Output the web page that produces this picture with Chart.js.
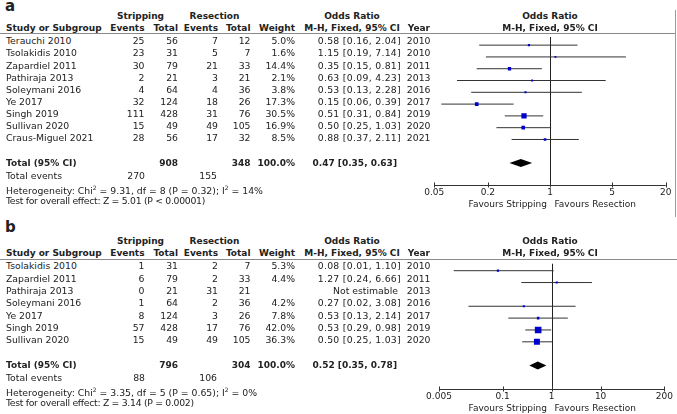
<!DOCTYPE html>
<html>
<head>
<meta charset="utf-8">
<script src="https://cdn.jsdelivr.net/npm/chart.js@4.4.1/dist/chart.umd.min.js"></script>
<style>
  html, body { margin: 0; padding: 0; background: #fff; }
  #page { position: relative; width: 677px; height: 414px; overflow: hidden;
    font-family: "DejaVu Sans", sans-serif; font-size: 9.3px; color: #222; }
  .t { position: absolute; white-space: nowrap; line-height: 12px; }
  .b { font-weight: bold; font-size: 9px; }
  .ci { letter-spacing: 0.3px; }
  .tight { letter-spacing: -0.3px; }
  .sm { font-size: 9px; }
  .letter { position: absolute; font-weight: bold; font-size: 15px; line-height: 15px; }
  .hr { position: absolute; height: 0; border-top: 1px solid #8a8a8a; }
  .vr { position: absolute; width: 0; border-left: 1px solid #9a9a9a; }
  .plot { position: absolute; }
</style>
</head>
<body>
<div id="page">
  <div class="letter" style="left:5px;top:-1px">a</div>
  <div class="letter" style="left:5px;top:220px">b</div>
  <div class="hr" style="left:0;top:33px;width:675px"></div>
  <div class="vr" style="left:675px;top:10px;height:207px"></div>
  <div class="hr" style="left:0;top:259px;width:677px"></div>
  <div class="plot" style="left:420px;top:33px;width:257px;height:174px"><canvas id="c-a"></canvas></div>
  <div class="plot" style="left:420px;top:259px;width:257px;height:152px"><canvas id="c-b"></canvas></div>
</div>
<script>
// Panel a — wszystkie badania
const studiesA = ["Terauchi 2010", "Tsolakidis 2010", "Zapardiel 2011", "Pathiraja 2013",
  "Soleymani 2016", "Ye 2017", "Singh 2019", "Sullivan 2020", "Craus-Miguel 2021"];
const stripEventsA = [25, 23, 30, 2, 4, 32, 111, 15, 28];
const stripTotalA = [56, 31, 79, 21, 64, 124, 428, 49, 56];
const resEventsA = [7, 5, 21, 3, 4, 18, 31, 49, 17];
const resTotalA = [12, 7, 33, 21, 36, 26, 76, 105, 32];
const weightA = [5.0, 1.6, 14.4, 2.1, 3.8, 17.3, 30.5, 16.9, 8.5];
const orA = [0.58, 1.15, 0.35, 0.63, 0.53, 0.15, 0.51, 0.50, 0.88];
const loA = [0.16, 0.19, 0.15, 0.09, 0.13, 0.06, 0.31, 0.25, 0.37];
const hiA = [2.04, 7.14, 0.81, 4.23, 2.28, 0.39, 0.84, 1.03, 2.11];
const yearA = [2010, 2010, 2011, 2013, 2016, 2017, 2019, 2020, 2021];
const totalA = [0.47, 0.35, 0.63];
const hetA = ["9.31", "8", "0.32", "14%"];
const testA = ["5.01", "P < 0.00001"];
const ticksA = [0.05, 0.2, 1, 5, 20];

// Panel b
const studiesB = ["Tsolakidis 2010", "Zapardiel 2011", "Pathiraja 2013", "Soleymani 2016",
  "Ye 2017", "Singh 2019", "Sullivan 2020"];
const stripEventsB = [1, 6, 0, 1, 8, 57, 15];
const stripTotalB = [31, 79, 21, 64, 124, 428, 49];
const resEventsB = [2, 2, 31, 2, 3, 17, 49];
const resTotalB = [7, 33, 21, 36, 26, 76, 105];
const weightB = [5.3, 4.4, null, 4.2, 7.8, 42.0, 36.3];
const orB = [0.08, 1.27, null, 0.27, 0.53, 0.53, 0.50];
const loB = [0.01, 0.24, null, 0.02, 0.13, 0.29, 0.25];
const hiB = [1.10, 6.66, null, 3.08, 2.14, 0.98, 1.03];
const yearB = [2010, 2011, 2013, 2016, 2017, 2019, 2020];
const totalB = [0.52, 0.35, 0.78];
const hetB = ["3.35", "5", "0.65", "0%"];
const testB = ["3.14", "P = 0.002"];
const ticksB = [0.005, 0.1, 1, 10, 200];

const page = document.getElementById("page");
const sum = (a) => a.reduce((s, v) => s + v, 0);
const f2 = (v) => v.toFixed(2);

function put(s, x, y, o = {}) {
  const d = document.createElement("div");
  d.className = "t" + (o.b ? " b" : "") + (o.cls ? " " + o.cls : "");
  if (o.html) d.innerHTML = s; else d.textContent = s;
  d.style.top = (y - 6) + "px";
  if (o.a === "r") d.style.right = (677 - x) + "px";
  else if (o.a === "c") { d.style.left = x + "px"; d.style.transform = "translateX(-50%)"; }
  else d.style.left = x + "px";
  page.appendChild(d);
}

// Tabela po lewej stronie panelu
function table(p) {
  const h1 = p.top + 16, h2 = p.top + 28;
  put("Stripping", 140.5, h1, { b: 1, a: "c" });
  put("Resection", 214.5, h1, { b: 1, a: "c" });
  put("Odds Ratio", 352, h1, { b: 1, a: "c" });
  put("Odds Ratio", 550, h1, { b: 1, a: "c" });
  put("Study or Subgroup", 6, h2, { b: 1 });
  put("Events", 144.5, h2, { b: 1, a: "r" });
  put("Total", 178, h2, { b: 1, a: "r" });
  put("Events", 218, h2, { b: 1, a: "r" });
  put("Total", 250.5, h2, { b: 1, a: "r" });
  put("Weight", 295, h2, { b: 1, a: "r" });
  put("M-H, Fixed, 95% CI", 352, h2, { b: 1, a: "c" });
  put("Year", 430, h2, { b: 1, a: "r" });
  put("M-H, Fixed, 95% CI", 550, h2, { b: 1, a: "c" });

  p.studies.forEach((s, i) => {
    const y = p.row0 + i * p.step;
    put(s, 6, y);
    put(String(p.se[i]), 144.5, y, { a: "r" });
    put(String(p.st[i]), 178, y, { a: "r" });
    put(String(p.re[i]), 218, y, { a: "r" });
    put(String(p.rt[i]), 250.5, y, { a: "r" });
    if (p.w[i] != null) put(p.w[i].toFixed(1) + "%", 295, y, { a: "r" });
    if (p.or[i] != null)
      put(`${f2(p.or[i])} [${f2(p.lo[i])}, ${f2(p.hi[i])}]`, 401, y, { a: "r", cls: "ci" });
    else put("Not estimable", 398, y, { a: "r" });
    put(String(p.year[i]), 430.5, y, { a: "r" });
  });

  const yt = p.row0 + p.totalRow * p.step;
  put("Total (95% CI)", 6, yt, { b: 1 });
  put(String(sum(p.st)), 178, yt, { b: 1, a: "r" });
  put(String(sum(p.rt)), 250.5, yt, { b: 1, a: "r" });
  put("100.0%", 295, yt, { b: 1, a: "r" });
  put(`${f2(p.total[0])} [${f2(p.total[1])}, ${f2(p.total[2])}]`, 397, yt, { b: 1, a: "r" });
  put("Total events", 6, yt + 13);
  put(String(sum(p.se)), 145, yt + 13, { a: "r" });
  put(String(sum(p.re)), 217, yt + 13, { a: "r" });
  put(`Heterogeneity: Chi<sup style="font-size:6px">2</sup> = ${p.het[0]}, df = ${p.het[1]} (P = ${p.het[2]}); I<sup style="font-size:6px">2</sup> = ${p.het[3]}`,
    6, yt + 25.5, { html: 1 });
  put(`Test for overall effect: Z = ${p.test[0]} (${p.test[1]})`, 6, yt + 38, { cls: "tight" });
  put("Favours Stripping", 547, p.favY, { a: "r", cls: "sm" });
  put("Favours Resection", 554.5, p.favY, { cls: "sm" });
}

// Linia OR=1, oś z kreskami do góry, romb dla sumy
const forestPlugin = {
  id: "forest",
  beforeDatasetsDraw(chart) {
    const { ctx, chartArea: ca, scales: { x } } = chart;
    const px = Math.round(x.getPixelForValue(1)) + 0.5;
    ctx.save();
    ctx.strokeStyle = "#222"; ctx.lineWidth = 1;
    ctx.beginPath(); ctx.moveTo(px, ca.top); ctx.lineTo(px, ca.bottom); ctx.stroke();
    ctx.restore();
  },
  afterDatasetsDraw(chart, args, opts) {
    const { ctx, chartArea: ca, scales: { x, y } } = chart;
    const t = opts.ticks;
    const ay = Math.round(ca.bottom) + 0.5;
    ctx.save();
    ctx.strokeStyle = "#333"; ctx.lineWidth = 1;
    ctx.beginPath();
    ctx.moveTo(x.getPixelForValue(t[0]), ay);
    ctx.lineTo(x.getPixelForValue(t[t.length - 1]), ay);
    t.forEach((v) => {
      const tx = Math.round(x.getPixelForValue(v)) + 0.5;
      ctx.moveTo(tx, ay - 3); ctx.lineTo(tx, ay + 2);
    });
    ctx.stroke();
    const [or, lo, hi] = opts.total;
    const cy = y.getPixelForValue(opts.totalRow);
    ctx.fillStyle = "#000";
    ctx.beginPath();
    ctx.moveTo(x.getPixelForValue(lo), cy);
    ctx.lineTo(x.getPixelForValue(or), cy - 4);
    ctx.lineTo(x.getPixelForValue(hi), cy);
    ctx.lineTo(x.getPixelForValue(or), cy + 4);
    ctx.closePath(); ctx.fill();
    ctx.restore();
  },
};

function forest(id, p) {
  const pts = [], radii = [], cis = [];
  p.or.forEach((v, i) => {
    if (v == null) return;
    pts.push({ x: v, y: i });
    radii.push((1.6 + 0.12 * p.w[i]) / Math.SQRT2);
    cis.push({
      type: "scatter", showLine: true, pointRadius: 0, borderColor: "#333", borderWidth: 1,
      data: [{ x: p.lo[i], y: i }, { x: p.hi[i], y: i }],
    });
  });
  return new Chart(document.getElementById(id), {
    type: "scatter",
    data: {
      datasets: [
        { data: pts, pointStyle: "rect", pointRadius: radii, pointBorderWidth: 0,
          backgroundColor: "#0000cc" },
        ...cis,
      ],
    },
    plugins: [forestPlugin],
    options: {
      responsive: true, maintainAspectRatio: false, animation: false,
      layout: { padding: { left: p.padL, right: p.padR, top: 0, bottom: 0 } },
      plugins: { legend: { display: false }, tooltip: { enabled: false },
        forest: { ticks: p.ticks, total: p.total, totalRow: p.totalRow } },
      scales: {
        x: {
          type: "logarithmic", min: p.ticks[0], max: p.ticks[p.ticks.length - 1],
          grid: { display: false, drawTicks: false }, border: { display: false },
          afterBuildTicks: (ax) => { ax.ticks = p.ticks.map((v) => ({ value: v })); },
          afterFit: (ax) => { ax.height = 22; },
          ticks: { autoSkip: false, maxRotation: 0, padding: 2, color: "#222",
            font: { family: "DejaVu Sans", size: 9 }, callback: (v) => String(v) },
        },
        y: { display: false, reverse: true, min: p.yMin, max: p.yMax },
      },
    },
  });
}

const panelA = {
  top: 0, row0: 41.3, step: 12.12, totalRow: 10, favY: 203.5,
  studies: studiesA, se: stripEventsA, st: stripTotalA, re: resEventsA, rt: resTotalA,
  w: weightA, or: orA, lo: loA, hi: hiA, year: yearA, total: totalA, het: hetA, test: testA,
  ticks: ticksA, padL: 14.3, padR: 11.3, yMin: -0.69, yMax: 11.86,
};
const panelB = {
  top: 224.7, row0: 266.3, step: 12.3, totalRow: 8, favY: 408,
  studies: studiesB, se: stripEventsB, st: stripTotalB, re: resEventsB, rt: resTotalB,
  w: weightB, or: orB, lo: loB, hi: hiB, year: yearB, total: totalB, het: hetB, test: testB,
  ticks: ticksB, padL: 19, padR: 12.7, yMin: -0.59, yMax: 9.98,
};

table(panelA);
table(panelB);
forest("c-a", panelA);
forest("c-b", panelB);
</script>
</body>
</html>
